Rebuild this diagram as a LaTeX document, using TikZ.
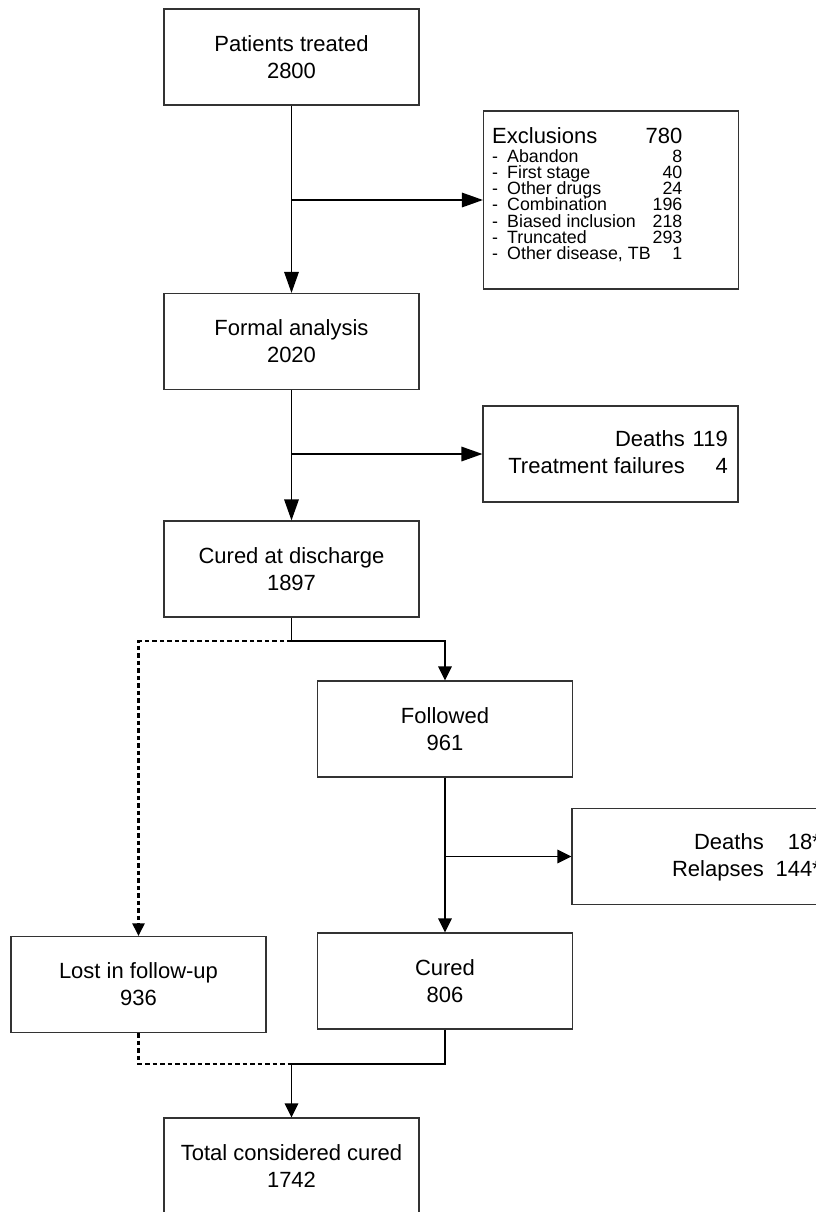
\documentclass[tikz,border=0pt]{standalone}
\usepackage{fontspec}
\setmainfont{Liberation Sans}
\usetikzlibrary{arrows.meta}
\tikzset{
  box/.style={draw=black!80, line width=1.1pt, minimum width=255pt, minimum height=96pt,
    inner sep=0pt, align=center, font=\fontsize{22}{27}\selectfont},
  tall/.style={minimum height=178pt},
  conn/.style={draw=black, line width=1.5pt},
  dotconn/.style={draw=black, line width=2.2pt, dash pattern=on 4.5pt off 3pt},
  bigtip/.style={-{Triangle[length=21pt,width=14.5pt]}},
  smalltip/.style={-{Triangle[length=14pt,width=13.5pt]}},
  dottip/.style={-{Triangle[length=12.5pt,width=12pt]}},
  txt/.style={inner sep=0pt, font=\fontsize{22}{27}\selectfont},
  stxt/.style={inner sep=0pt, font=\fontsize{17.8}{17}\selectfont}
}
\begin{document}
\begin{tikzpicture}[x=1pt,y=-1pt]
\useasboundingbox (0,0) rectangle (816,1212);
% main boxes
\node[box] (pt) at (291.5,57) {Patients treated\\2800};
\node[box] (fa) at (291.5,341.5) {Formal analysis\\2020};
\node[box] (cd) at (291.5,569) {Cured at discharge\\1897};
\node[box] (fo) at (445,729) {Followed\\961};
\node[box] (cu) at (445,981) {Cured\\806};
\node[box] (lo) at (138.5,984.5) {Lost in follow-up\\936};
\node[box] (to) at (291.5,1166) {Total considered cured\\1742};
% side boxes
\node[box,tall] (ex) at (611,200) {};
\node[box] (d1) at (610.5,454) {};
\node[box] (d2) at (699.5,856.5) {};
% exclusions content
\node[txt,anchor=base west] (exh) at (492,143.3) {Exclusions};
\node[txt,anchor=base east] (exhn) at (682.5,143.3) {780};
\foreach \lab/\num [count=\i] in {Abandon/8, First stage/40, Other drugs/24, Combination/196, Biased inclusion/218, Truncated/293, {Other disease, TB}/1}{
  \node[stxt,anchor=base west] (exd\i) at (492,{162.3+16.2*(\i-1)}) {-};
  \node[stxt,anchor=base west] (exl\i) at (507,{162.3+16.2*(\i-1)}) {\lab};
  \node[stxt,anchor=base east] (exn\i) at (682.5,{162.3+16.2*(\i-1)}) {\num};
}
% deaths 119 content
\node[txt,anchor=base east] (d1a) at (685,446) {Deaths};
\node[txt,anchor=base east] (d1an) at (728,446) {119};
\node[txt,anchor=base east] (d1b) at (685,473) {Treatment failures};
\node[txt,anchor=base east] (d1bn) at (728,473) {4};
% deaths 18 content
\node[txt,anchor=base east] (d2a) at (764,849) {Deaths};
\node[txt,anchor=base east] (d2an) at (821,849) {18*};
\node[txt,anchor=base east] (d2b) at (764,876) {Relapses};
\node[txt,anchor=base east] (d2bn) at (821,876) {144*};
% connectors
\coordinate (j1) at (pt.south |- ex.west);
\coordinate (j2) at (fa.south |- d1.west);
\coordinate (j3) at (291.5,641);
\coordinate (j4) at (fo.south |- d2.west);
\coordinate (j5) at (291.5,1064);
\draw[conn,bigtip] (pt.south) -- (fa.north);
\draw[conn,bigtip] (j1) -- (ex.west);
\draw[conn,bigtip] (fa.south) -- (cd.north);
\draw[conn,bigtip] (j2) -- (d1.west);
\draw[dotconn,dottip] (j3) -| (lo.north);
\draw[conn,smalltip] (cd.south) -- (j3) -| (fo.north);
\draw[conn,smalltip] (fo.south) -- (cu.north);
\draw[conn,smalltip] (j4) -- (d2.west);
\draw[dotconn] (lo.south) |- (j5);
\draw[conn] (cu.south) |- (j5);
\draw[conn,smalltip] (j5) -- (to.north);
\end{tikzpicture}
\end{document}
